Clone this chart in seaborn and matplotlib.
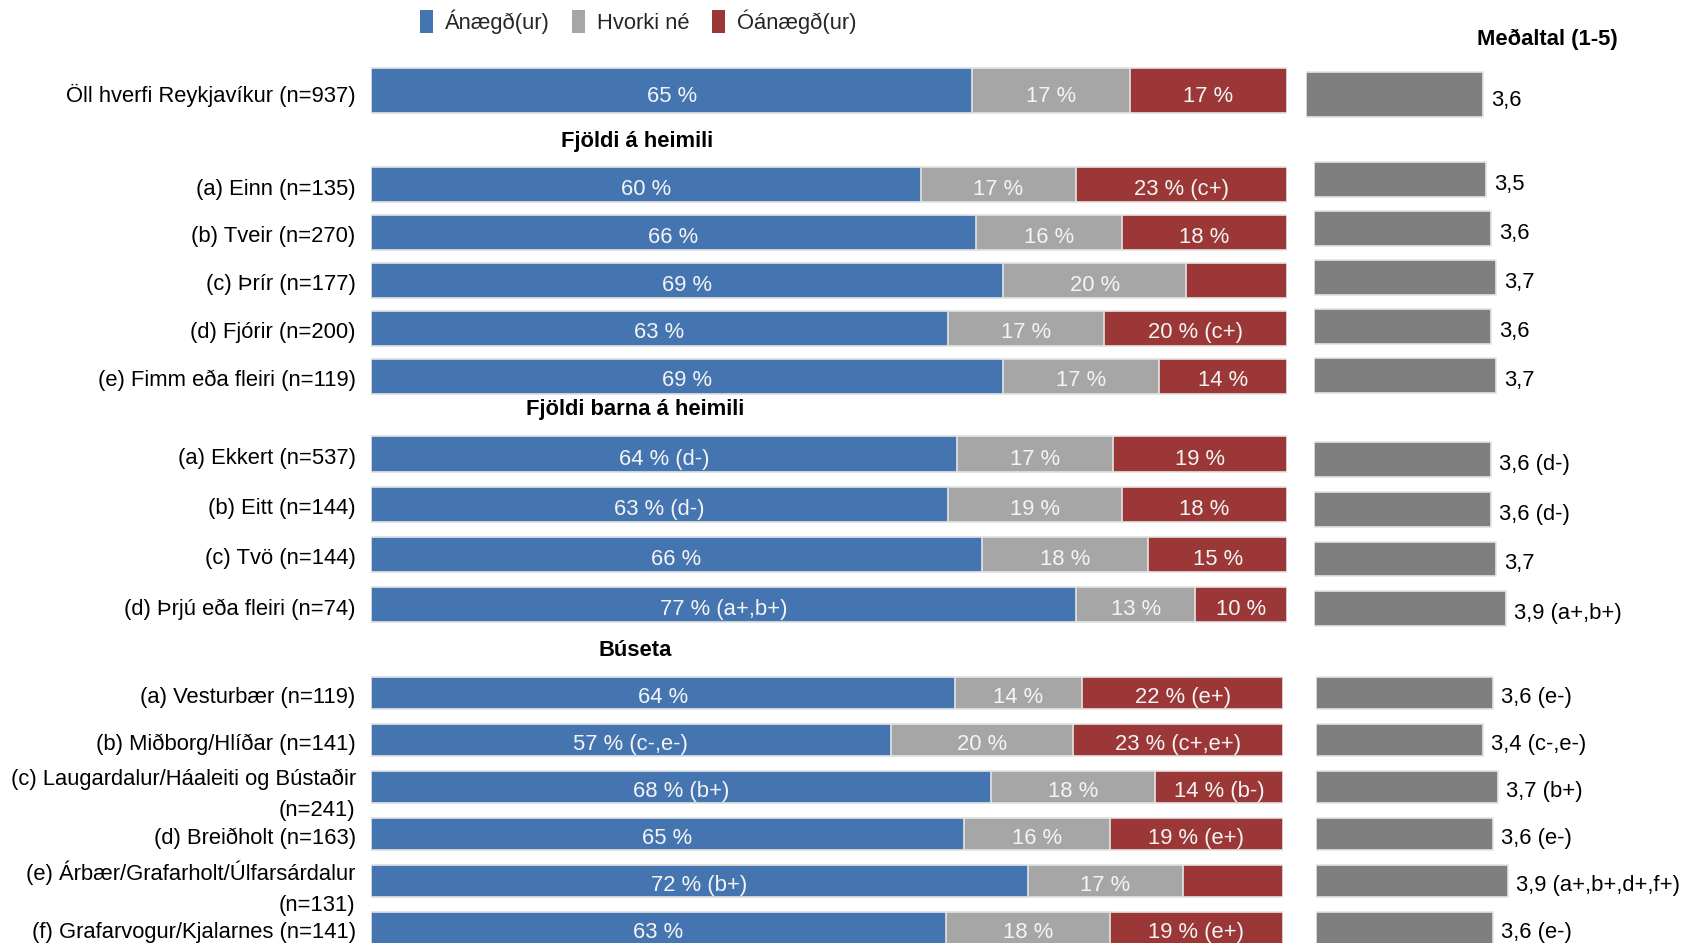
import numpy as np
import pandas as pd
import matplotlib
matplotlib.use("Agg")
import matplotlib.pyplot as plt
import matplotlib.transforms as mtransforms
import seaborn as sns
from matplotlib.patches import Patch

sns.set_theme(style="white")
plt.rcParams["font.family"] = ["Liberation Sans", "DejaVu Sans"]

# ---------------------------------------------------------------- data
series_names = ["Ánægð(ur)", "Hvorki né", "Óánægð(ur)"]
mean_title = "Meðaltal (1-5)"

# Section: all neighbourhoods
all_heading = None
all_cats = ["Öll hverfi Reykjavíkur (n=937)"]
all_sat = [65]
all_neu = [17]
all_dis = [17]
all_sat_note = [""]
all_dis_note = [""]
all_mean = [3.6]
all_mean_note = [""]

# Section: household size
hh_heading = "Fjöldi á heimili"
hh_cats = ["(a) Einn (n=135)", "(b) Tveir (n=270)", "(c) Þrír (n=177)",
           "(d) Fjórir (n=200)", "(e) Fimm eða fleiri (n=119)"]
hh_sat = [60, 66, 69, 63, 69]
hh_neu = [17, 16, 20, 17, 17]
hh_dis = [23, 18, 11, 20, 14]
hh_sat_note = ["", "", "", "", ""]
hh_dis_note = [" (c+)", "", None, " (c+)", ""]
hh_mean = [3.5, 3.6, 3.7, 3.6, 3.7]
hh_mean_note = ["", "", "", "", ""]

# Section: number of children
ch_heading = "Fjöldi barna á heimili"
ch_cats = ["(a) Ekkert (n=537)", "(b) Eitt (n=144)", "(c) Tvö (n=144)",
           "(d) Þrjú eða fleiri (n=74)"]
ch_sat = [64, 63, 66, 77]
ch_neu = [17, 19, 18, 13]
ch_dis = [19, 18, 15, 10]
ch_sat_note = [" (d-)", " (d-)", "", " (a+,b+)"]
ch_dis_note = ["", "", "", ""]
ch_mean = [3.6, 3.6, 3.7, 3.9]
ch_mean_note = [" (d-)", " (d-)", "", " (a+,b+)"]

# Section: residence
res_heading = "Búseta"
res_cats = ["(a) Vesturbær (n=119)", "(b) Miðborg/Hlíðar (n=141)",
            "(c) Laugardalur/Háaleiti og Bústaðir\n(n=241)",
            "(d) Breiðholt (n=163)",
            "(e) Árbær/Grafarholt/Úlfarsárdalur\n(n=131)",
            "(f) Grafarvogur/Kjalarnes (n=141)"]
res_sat = [64, 57, 68, 65, 72, 63]
res_neu = [14, 20, 18, 16, 17, 18]
res_dis = [22, 23, 14, 19, 11, 19]
res_sat_note = ["", " (c-,e-)", " (b+)", "", " (b+)", ""]
res_dis_note = [" (e+)", " (c+,e+)", " (b-)", " (e+)", None, " (e+)"]
res_mean = [3.6, 3.4, 3.7, 3.6, 3.9, 3.6]
res_mean_note = [" (e-)", " (c-,e-)", " (b+)", " (e-)", " (a+,b+,d+,f+)", " (e-)"]

# ---------------------------------------------------------------- style
C_SAT = "#4575b0"
C_NEU = "#a6a6a6"
C_DIS = "#9b3837"
C_MEAN = "#7f7f7f"
EDGE = "#e4e4e4"
LABEL_C = "#f4f4f4"
FS = 15.8

W, H = 1693, 943
fig = plt.figure(figsize=(W / 100, H / 100), dpi=100)
fig.patch.set_facecolor("white")
label_shift = mtransforms.ScaledTranslation(0, -2 / 100, fig.dpi_scale_trans)


def px_axes(left, top, width, height):
    return fig.add_axes([left / W, 1 - (top + height) / H, width / W, height / H])


def clean(ax):
    ax.set_xticks([])
    ax.set_xlabel("")
    ax.set_ylabel("")
    for s in ax.spines.values():
        s.set_visible(False)
    ax.set_facecolor("none")


# layout of each block in pixels:
# (first row centre, row pitch, bar fraction, left, right) for the stacked bars
# (first row centre, row pitch, bar fraction, left) for the mean bars
sections = [
    dict(heading=all_heading, head_xy=None,
         cats=all_cats, sat=all_sat, neu=all_neu, dis=all_dis,
         sat_note=all_sat_note, dis_note=all_dis_note,
         mean=all_mean, mean_note=all_mean_note,
         stack=(90.5, 60, 0.75, 371, 1287), mbar=(94.5, 60, 0.75, 1306)),
    dict(heading=hh_heading, head_xy=(637, 141),
         cats=hh_cats, sat=hh_sat, neu=hh_neu, dis=hh_dis,
         sat_note=hh_sat_note, dis_note=hh_dis_note,
         mean=hh_mean, mean_note=hh_mean_note,
         stack=(184.5, 47.9, 0.73, 371, 1287), mbar=(179.5, 49.1, 0.71, 1314)),
    dict(heading=ch_heading, head_xy=(635, 409),
         cats=ch_cats, sat=ch_sat, neu=ch_neu, dis=ch_dis,
         sat_note=ch_sat_note, dis_note=ch_dis_note,
         mean=ch_mean, mean_note=ch_mean_note,
         stack=(454, 50.2, 0.70, 371, 1287), mbar=(459.5, 49.7, 0.70, 1314)),
    dict(heading=res_heading, head_xy=(635, 650),
         cats=res_cats, sat=res_sat, neu=res_neu, dis=res_dis,
         sat_note=res_sat_note, dis_note=res_dis_note,
         mean=res_mean, mean_note=res_mean_note,
         stack=(693, 47, 0.68, 371, 1283), mbar=(693, 47, 0.68, 1316)),
]

PX_PER_UNIT = 49.2   # mean-bar scale
MEAN_W = 330

for sec in sections:
    n = len(sec["cats"])
    df = pd.DataFrame({"cat": sec["cats"], "sat": sec["sat"],
                       "neu": sec["neu"], "dis": sec["dis"]})
    tot = df[["sat", "neu", "dis"]].sum(axis=1)
    # 100 % stacked: shares of each row total
    df["p_sat"] = df["sat"] / tot * 100
    df["p_neu"] = df["neu"] / tot * 100
    df["p_dis"] = df["dis"] / tot * 100
    df["c1"] = df["p_sat"]
    df["c2"] = df["p_sat"] + df["p_neu"]
    df["c3"] = df["c2"] + df["p_dis"]

    c0, pitch, frac, left, right = sec["stack"]
    ax = px_axes(left, c0 - pitch / 2, right - left, pitch * n)
    for col, colr in (("c3", C_DIS), ("c2", C_NEU), ("c1", C_SAT)):
        sns.barplot(data=df, x=col, y="cat", orient="h", color=colr,
                    width=frac, edgecolor=EDGE, linewidth=1.2, ax=ax,
                    saturation=1)
    ax.set_xlim(0, 100)
    ax.set_ylim(n - 0.5, -0.5)
    clean(ax)
    ax.tick_params(axis="y", length=0, pad=11, labelsize=FS, labelcolor="black")
    for t in ax.get_yticklabels():
        t.set_linespacing(1.62)
        if "\n" not in t.get_text():
            t.set_transform(t.get_transform() + label_shift)

    for i in range(n):
        segs = [
            (0, df["p_sat"][i], sec["sat"][i], sec["sat_note"][i]),
            (df["c1"][i], df["p_neu"][i], sec["neu"][i], ""),
            (df["c2"][i], df["p_dis"][i], sec["dis"][i], sec["dis_note"][i]),
        ]
        for start, width, val, note in segs:
            if note is None:
                continue
            ax.text(start + width / 2, i + 0.1, f"{val} %{note}",
                    ha="center", va="center", color=LABEL_C, fontsize=FS)

    # mean bars
    m0, mpitch, mfrac, mleft = sec["mbar"]
    mdf = pd.DataFrame({"cat": sec["cats"], "mean": sec["mean"]})
    axm = px_axes(mleft, m0 - mpitch / 2, MEAN_W, mpitch * n)
    sns.barplot(data=mdf, x="mean", y="cat", orient="h", color=C_MEAN,
                width=mfrac, edgecolor=EDGE, linewidth=1.2, ax=axm, saturation=1)
    axm.set_xlim(0, MEAN_W / PX_PER_UNIT)
    axm.set_ylim(n - 0.5, -0.5)
    clean(axm)
    axm.set_yticks([])
    for i, (v, note) in enumerate(zip(sec["mean"], sec["mean_note"])):
        axm.text(v + 8 / PX_PER_UNIT, i + 0.1,
                 f"{v:.1f}".replace(".", ",") + note,
                 ha="left", va="center", color="black", fontsize=FS)

    if sec["heading"]:
        hx, hy = sec["head_xy"]
        fig.text(hx / W, 1 - hy / H, sec["heading"], ha="center", va="center",
                 fontsize=FS, fontweight="bold", color="black")

fig.text(1547 / W, 1 - 39 / H, mean_title, ha="center", va="center",
         fontsize=FS, fontweight="bold", color="black")

handles = [Patch(facecolor=c, edgecolor="none", label=l)
           for c, l in zip((C_SAT, C_NEU, C_DIS), series_names)]
fig.legend(handles=handles, ncol=3, loc="center",
           bbox_to_anchor=(638 / W, 1 - 22 / H), frameon=False,
           fontsize=FS, handlelength=0.6, handleheight=1.25,
           handletextpad=0.55, columnspacing=1.0)

fig.savefig("out.png", dpi=100, facecolor="white")
